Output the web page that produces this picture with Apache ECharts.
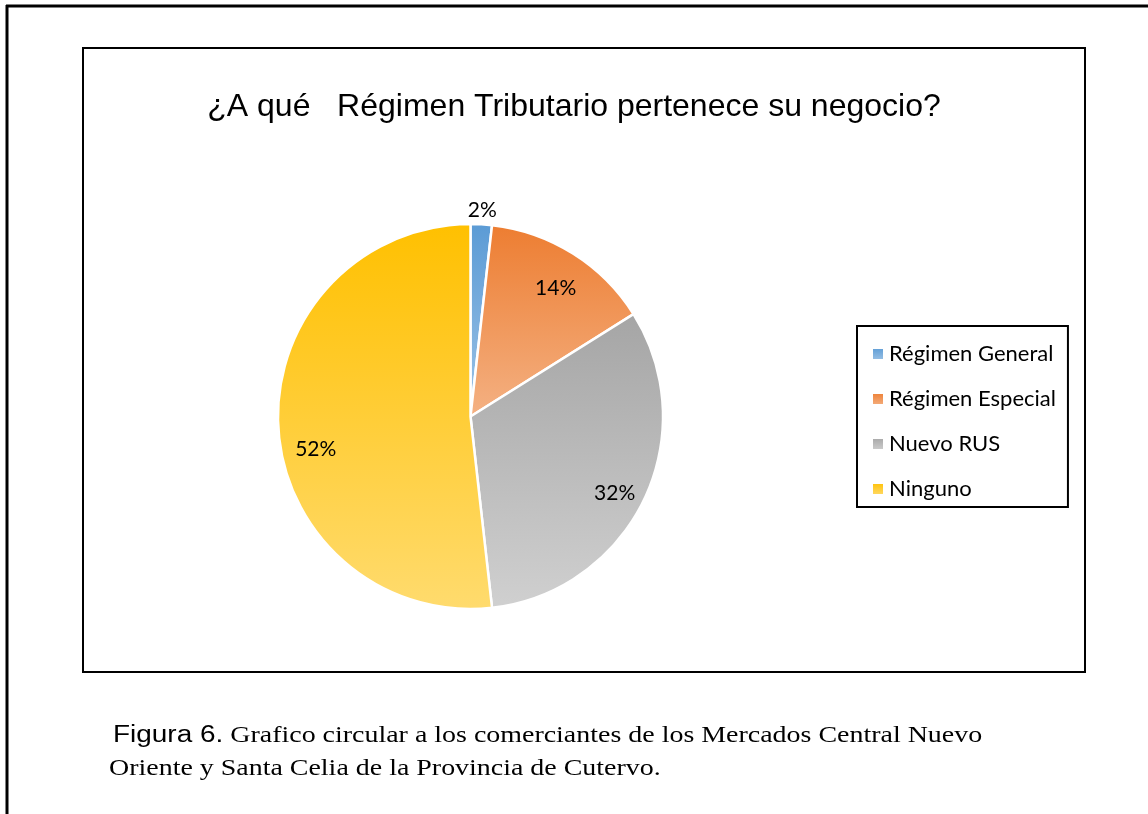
<!DOCTYPE html>
<html>
<head>
<meta charset="utf-8">
<title>Régimen Tributario</title>
<script src="https://cdn.jsdelivr.net/npm/echarts@6/dist/echarts.min.js"></script>
<style>
  html, body { margin: 0; padding: 0; background: #fff; }
  #chart { width: 1148px; height: 814px; }
</style>
</head>
<body>
<div id="chart"></div>
<script>
// datos (conteos, n = 56)
const categories = ['Régimen General', 'Régimen Especial', 'Nuevo RUS', 'Ninguno'];
const counts = [1, 8, 18, 29];
// degradado de cada sector: color arriba / color abajo
const topColors = ['#5B9BD5', '#ED7D31', '#A5A5A5', '#FFC000'];
const bottomColors = ['#9DC3E6', '#F4B183', '#D0D0D0', '#FFDB6E'];

const titleText = '¿A qué   Régimen Tributario pertenece su negocio?';
const captionHead = 'Figura 6.';
const captionLine1 = ' Grafico circular a los comerciantes de los Mercados Central Nuevo';
const captionLine2 = 'Oriente y Santa Celia de la Provincia de Cutervo.';

const chart = echarts.init(document.getElementById('chart'), null, { renderer: 'canvas' });

const center = [470.5, 416.5];

function gradient(i) {
  return new echarts.graphic.LinearGradient(0, 0, 0, 1, [
    { offset: 0, color: topColors[i] },
    { offset: 1, color: bottomColors[i] }
  ]);
}

const pctLabel = p => Math.round(p.percent) + '%';

const labelFont = {
  fontFamily: 'Lato',
  fontSize: 21,
  color: '#000'
};

chart.setOption({
  animation: false,
  backgroundColor: '#fff',
  title: {
    text: titleText,
    left: 'center',
    top: 86,
    textStyle: {
      fontFamily: 'Liberation Sans',
      fontWeight: 'normal',
      fontSize: 32,
      color: '#000'
    }
  },
  legend: {
    orient: 'vertical',
    left: 857,
    top: 326,
    icon: 'rect',
    itemWidth: 12,
    itemHeight: 12,
    itemGap: 23,
    padding: [17, 12, 7, 14],
    borderColor: '#000',
    borderWidth: 2,
    data: categories,
    textStyle: { fontFamily: 'Lato', fontSize: 22, lineHeight: 22, color: '#000' }
  },
  graphic: [
    // marco exterior (arriba e izquierda)
    { type: 'line', shape: { x1: 6, y1: 6, x2: 1148, y2: 6 }, style: { stroke: '#000', lineWidth: 3 } },
    { type: 'line', shape: { x1: 7, y1: 5, x2: 7, y2: 814 }, style: { stroke: '#000', lineWidth: 3 } },
    // marco del gráfico
    { type: 'rect', shape: { x: 83, y: 48, width: 1002, height: 624 }, style: { fill: 'none', stroke: '#000', lineWidth: 2 } },
    // leyenda de la figura
    {
      type: 'text', x: 113, y: 736, scaleX: 1.215,
      style: {
        text: '{a|' + captionHead + '}{b|' + captionLine1 + '}',
        verticalAlign: 'middle',
        rich: {
          a: { fontFamily: 'Liberation Sans', fontSize: 23, fill: '#000' },
          b: { fontFamily: 'Liberation Serif', fontSize: 23, fill: '#000' }
        }
      }
    },
    {
      type: 'text', x: 109, y: 769, scaleX: 1.215,
      style: { text: captionLine2, font: '23px "Liberation Serif"', fill: '#000', verticalAlign: 'middle' }
    }
  ],
  series: [
    {
      name: 'Régimen',
      type: 'pie',
      center: center,
      radius: 192.5,
      startAngle: 90,
      clockwise: true,
      silent: true,
      avoidLabelOverlap: false,
      label: { show: false },
      labelLine: { show: false },
      itemStyle: { borderColor: '#fff', borderWidth: 2.5 },
      data: categories.map((c, i) => ({ name: c, value: counts[i], itemStyle: { color: gradient(i) } }))
    },
    {
      // etiquetas interiores
      type: 'pie',
      center: center,
      radius: 314,
      startAngle: 90,
      silent: true,
      legendHoverLink: false,
      avoidLabelOverlap: false,
      itemStyle: { color: 'rgba(0,0,0,0)' },
      label: Object.assign({ show: true, position: 'inside', formatter: pctLabel }, labelFont),
      labelLine: { show: false },
      // Excel coloca la etiqueta del sector grande algo más abajo
      labelLayout: p => (p.dataIndex === 3 ? { dx: 5, dy: 24 } : { dy: 7 }),
      data: categories.map((c, i) => ({ name: c, value: counts[i], label: { show: i > 0 } }))
    },
    {
      // etiqueta exterior del sector pequeño
      type: 'pie',
      center: center,
      radius: 414,
      startAngle: 90,
      silent: true,
      legendHoverLink: false,
      avoidLabelOverlap: false,
      itemStyle: { color: 'rgba(0,0,0,0)' },
      label: Object.assign({ show: true, position: 'inside', formatter: pctLabel }, labelFont),
      labelLine: { show: false },
      labelLayout: { dy: 3 },
      data: categories.map((c, i) => ({ name: c, value: counts[i], label: { show: i === 0 } }))
    }
  ]
});

window.addEventListener('resize', () => chart.resize());
</script>
</body>
</html>
